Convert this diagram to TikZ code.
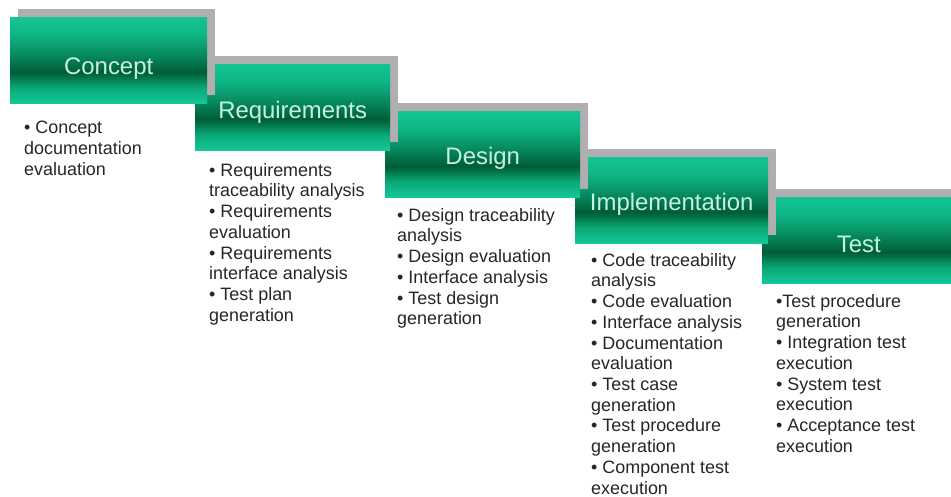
\documentclass[tikz,border=0pt]{standalone}
\usepackage{fontspec}
\setmainfont{Liberation Sans}
\usetikzlibrary{shadows}

\definecolor{gbottom}{HTML}{16C898}
\definecolor{glow}{HTML}{0AA877}
\definecolor{gdark}{HTML}{005C38}
\definecolor{gmid}{HTML}{05855A}
\definecolor{gupper}{HTML}{0FB685}
\definecolor{gtop}{HTML}{14C494}
\definecolor{stepgrey}{HTML}{B0AEAF}
\definecolor{labelmint}{HTML}{C5F2DE}
\definecolor{bodyink}{HTML}{262626}

% phase bar: bright rim top and bottom, dark band a little below the middle
\pgfdeclareverticalshading{stepshade}{100bp}{%
  color(0bp)=(gbottom); color(25bp)=(gbottom); color(34bp)=(glow);
  color(43bp)=(gdark); color(52bp)=(gmid); color(65bp)=(gupper);
  color(75bp)=(gtop); color(100bp)=(gtop)}

\tikzset{
  stepbox/.style={rectangle, inner sep=0pt, anchor=north west,
    minimum height=86bp, shading=stepshade,
    general shadow={fill=stepgrey, shadow xshift=8bp, shadow yshift=8bp}},
  steplabel/.style={anchor=base, text=labelmint,
    font=\fontsize{24}{28}\selectfont},
  itemlist/.style={anchor=north west, align=left, inner sep=0pt,
    text=bodyink, font=\fontsize{18}{20.8}\selectfont},
}

\begin{document}
\begin{tikzpicture}[x=1bp, y=-1bp]
  \useasboundingbox (0,0) rectangle (951,497);
  \fill[white] (0,0) rectangle (951,497);
  \clip (0,0) rectangle (951,497);

  % phase bars, last one first so each earlier bar lies on top
  \node[stepbox, minimum width=193bp] (test)    at (762,197) {};
  \node[stepbox, minimum width=193bp] (impl)    at (575,157) {};
  \node[stepbox, minimum width=195bp] (design)  at (385,111) {};
  \node[stepbox, minimum width=195bp] (req)     at (195,64)  {};
  \node[stepbox, minimum width=197bp] (concept) at (10,17)   {};

  % phase titles
  \node[steplabel] (conceptT) at ([yshift=-14bp]concept.center) {Concept};
  \node[steplabel] (reqT)     at ([yshift=-11bp]req.center)     {Requirements};
  \node[steplabel] (designT)  at ([yshift=-10bp]design.center)  {Design};
  \node[steplabel] (implT)    at ([yshift=-10bp]impl.center)    {Implementation};
  \node[steplabel] (testT)    at ([yshift=-12bp]test.center)    {Test};

  % activities of each phase
  \node[itemlist] (conceptL) at (24,121) {• Concept\\documentation\\evaluation};
  \node[itemlist] (reqL) at (209,163) {• Requirements\\traceability analysis\\%
    • Requirements\\evaluation\\• Requirements\\interface analysis\\%
    • Test plan\\generation};
  \node[itemlist] (designL) at (397,208) {• Design traceability\\analysis\\%
    • Design evaluation\\• Interface analysis\\• Test design\\generation};
  \node[itemlist] (implL) at (591,253) {• Code traceability\\analysis\\%
    • Code evaluation\\• Interface analysis\\• Documentation\\evaluation\\%
    • Test case\\generation\\• Test procedure\\generation\\%
    • Component test\\execution};
  \node[itemlist] (testL) at (776,294) {•Test procedure\\generation\\%
    • Integration test\\execution\\• System test\\execution\\%
    • Acceptance test\\execution};
\end{tikzpicture}
\end{document}
